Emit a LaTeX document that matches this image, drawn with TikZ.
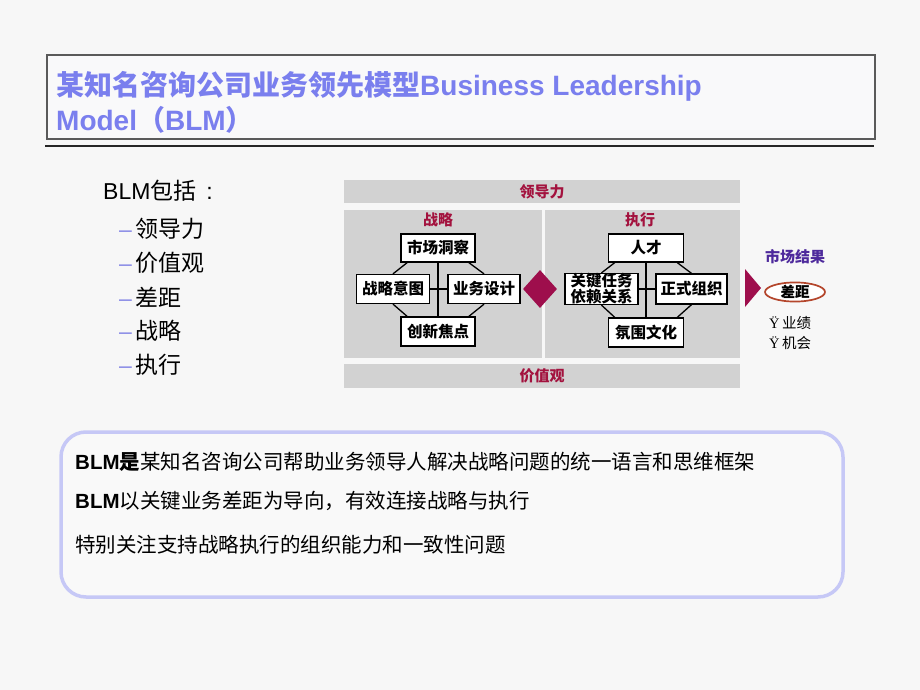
\documentclass[tikz,border=0pt]{standalone}
\usepackage{fontspec}
\setmainfont{Liberation Sans}
\newfontfamily\cjk{Noto Sans CJK SC}
\newfontfamily\serifb{Liberation Serif}
\usetikzlibrary{shapes.geometric,calc}
\definecolor{bg}{HTML}{F7F7F7}
\definecolor{titleblue}{HTML}{7A7FEE}
\definecolor{titlefill}{HTML}{F9F9FA}
\definecolor{titleframe}{HTML}{5A5A5A}
\definecolor{panelgray}{HTML}{D2D2D2}
\definecolor{labred}{HTML}{A3123E}
\definecolor{crimson}{HTML}{9E0E4C}
\definecolor{resultpurple}{HTML}{4E2A9C}
\definecolor{ellred}{HTML}{B4462C}
\definecolor{dashblue}{HTML}{8A8CE6}
\definecolor{boxblue}{HTML}{C6C8F6}
\definecolor{boxfill}{HTML}{F9F9F9}
\tikzset{
  stratbox/.style={draw=black, line width=1.3pt, fill=white, minimum width=74, minimum height=28,
    inner sep=0, align=center, font=\cjk\bfseries\fontsize{15.5}{15.5}\selectfont},
  conn/.style={draw=black, line width=1.3pt},
  redlab/.style={text=labred, inner sep=0, font=\cjk\bfseries\fontsize{15}{15}\selectfont},
  titletext/.style={anchor=west, inner sep=0, text=titleblue, font=\bfseries\fontsize{28}{28}\selectfont},
  listitem/.style={anchor=west, inner sep=0, font=\fontsize{23}{23}\selectfont},
  bodytext/.style={anchor=west, inner sep=0, font=\fontsize{20.5}{20.5}\selectfont},
  smalltext/.style={anchor=west, inner sep=0, font=\fontsize{14.5}{14.5}\selectfont},
}
\begin{document}
\begin{tikzpicture}[x=1pt,y=-1pt]
\useasboundingbox[fill=bg] (0,0) rectangle (920,690);

% title
\draw[draw=titleframe, line width=1.4pt, fill=titlefill] (47,55) rectangle (875,139);
\draw[draw=black!85, line width=1.3pt] (45,146) -- (874,146);
\node[titletext] (t1) at (56,86) {{\cjk 某知名咨询公司业务领先模型}Business Leadership};
\node[titletext] (t2) at (56,120) {Model{\cjk （}BLM{\cjk ）}};

% left list
\node[listitem] (inc) at (103,191) {BLM{\cjk 包括}\hspace{10pt}:};
\node[listitem] (l1) at (119,229) {{\color{dashblue}–}\hspace{4pt}{\cjk 领导力}};
\node[listitem] (l2) at (119,263) {{\color{dashblue}–}\hspace{4pt}{\cjk 价值观}};
\node[listitem] (l3) at (119,297) {{\color{dashblue}–}\hspace{4pt}{\cjk 差距}};
\node[listitem] (l4) at (119,331) {{\color{dashblue}–}\hspace{4pt}{\cjk 战略}};
\node[listitem] (l5) at (119,365) {{\color{dashblue}–}\hspace{4pt}{\cjk 执行}};

% panels
\fill[panelgray] (344,180) rectangle (740,203);
\fill[panelgray] (344,210) rectangle (542,358);
\fill[panelgray] (545,210) rectangle (740,358);
\fill[panelgray] (344,364) rectangle (740,388);
\node[redlab] (ldl) at (542,191.5) {领导力};
\node[redlab] (jzg) at (542,376) {价值观};
\node[redlab] (zl0) at (438,220) {战略};
\node[redlab] (zx0) at (640,220) {执行};

% strategy boxes
\node[stratbox] (ms) at (438,248) {市场洞察};
\node[stratbox, minimum width=73, minimum height=29] (zl) at (393,289) {战略意图};
\node[stratbox, minimum width=72, minimum height=29] (yw) at (484,289) {业务设计};
\node[stratbox, minimum height=29] (cx) at (438,331.5) {创新焦点};
\draw[conn] (ms.south) -- (cx.north);
\draw[conn] (zl.east) -- (yw.west);
\draw[conn] ($(ms.south west)!0.09!(ms.south east)$) -- (zl.north);
\draw[conn] ($(ms.south west)!0.91!(ms.south east)$) -- (yw.north);
\draw[conn] ($(cx.north west)!0.09!(cx.north east)$) -- (zl.south);
\draw[conn] ($(cx.north west)!0.91!(cx.north east)$) -- (yw.south);

% execution boxes
\node[stratbox, minimum width=75] (rc) at (646,248) {人才};
\node[stratbox, minimum width=73, minimum height=30, font=\cjk\bfseries\fontsize{15.5}{14.5}\selectfont] (gj) at (601.5,289) {关键任务\\依赖关系};
\node[stratbox, minimum width=71, minimum height=30] (zs) at (691.5,289) {正式组织};
\node[stratbox, minimum width=75, minimum height=29] (fw) at (646,332.5) {氛围文化};
\draw[conn] (rc.south) -- (fw.north);
\draw[conn] (gj.east) -- (zs.west);
\draw[conn] ($(rc.south west)!0.09!(rc.south east)$) -- (gj.north);
\draw[conn] ($(rc.south west)!0.91!(rc.south east)$) -- (zs.north);
\draw[conn] ($(fw.north west)!0.09!(fw.north east)$) -- (gj.south);
\draw[conn] ($(fw.north west)!0.91!(fw.north east)$) -- (zs.south);

% diamond and arrow
\node[diamond, fill=crimson, minimum width=34, minimum height=38, inner sep=0, aspect=0.9] (dm) at (540,289) {};
\fill[crimson] (745,269) -- (761,288) -- (745,307) -- cycle;

% market result
\node[inner sep=0, text=resultpurple, font=\cjk\bfseries\fontsize{15}{15}\selectfont] (scjg) at (795,257) {市场结果};
\node[ellipse, draw=ellred, line width=1.7pt, fill=white, minimum width=60, minimum height=19, inner sep=0,
  font=\cjk\bfseries\fontsize{14.5}{14.5}\selectfont] (cj) at (795,292) {差距};
\node[smalltext] (yj) at (769,323) {{\serifb Ÿ}\,{\cjk 业绩}};
\node[smalltext] (jh) at (769,343) {{\serifb Ÿ}\,{\cjk 机会}};

% bottom box
\draw[draw=boxblue, line width=3.5pt, fill=boxfill, rounded corners=25] (61,432) rectangle (843,597);
\node[bodytext] (b1) at (75,462) {\textbf{BLM}{\cjk\bfseries 是}{\cjk 某知名咨询公司帮助业务领导人解决战略问题的统一语言和思维框架}};
\node[bodytext] (b2) at (75,501) {\textbf{BLM}{\cjk 以关键业务差距为导向，有效连接战略与执行}};
\node[bodytext] (b3) at (75,545) {{\cjk 特别关注支持战略执行的组织能力和一致性问题}};
\end{tikzpicture}
\end{document}
